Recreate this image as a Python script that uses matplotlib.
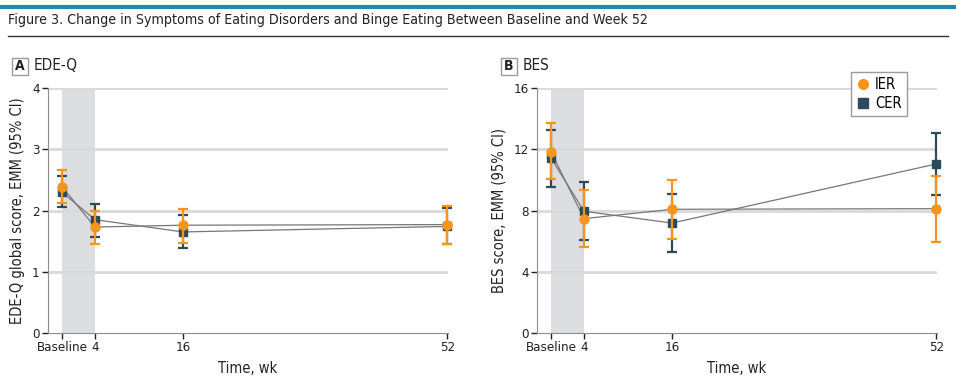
import matplotlib.pyplot as plt
from matplotlib.patches import Rectangle
from matplotlib.lines import Line2D

plt.rcParams['font.family'] = ['DejaVu Sans']
plt.rcParams['font.stretch'] = 'condensed'

# time points (baseline drawn just left of week 0, as in the figure)
weeks = [-0.5, 4, 16, 52]
week_labels = ['Baseline', '4', '16', '52']

# Panel A: EDE-Q global score
edeq_ier = [2.39, 1.73, 1.76, 1.77]
edeq_ier_lo = [2.13, 1.46, 1.47, 1.45]
edeq_ier_hi = [2.66, 2.00, 2.03, 2.08]
edeq_cer = [2.30, 1.85, 1.65, 1.74]
edeq_cer_lo = [2.05, 1.57, 1.38, 1.46]
edeq_cer_hi = [2.57, 2.11, 1.93, 2.04]

# Panel B: BES score
bes_ier = [11.84, 7.47, 8.08, 8.12]
bes_ier_lo = [10.03, 5.59, 6.16, 5.96]
bes_ier_hi = [13.69, 9.32, 9.97, 10.27]
bes_cer = [11.43, 7.95, 7.18, 11.04]
bes_cer_lo = [9.56, 6.10, 5.31, 9.03]
bes_cer_hi = [13.23, 9.84, 9.10, 13.04]

orange = '#f7941d'
navy = '#2c4a58'
grid_c = '#d9d9d9'
spine_c = '#8c8c8c'
text_c = '#222222'

fig = plt.figure(figsize=(9.56, 3.8), dpi=100)

# header
fig.add_artist(Line2D([0, 1], [1 - 7 / 380, 1 - 7 / 380], color='#1b8db3', lw=3))
fig.text(8 / 956, 1 - 20 / 380, 'Figure 3. Change in Symptoms of Eating Disorders and Binge Eating Between Baseline and Week 52',
         fontsize=10.2, va='center', ha='left', color=text_c)
fig.add_artist(Line2D([8 / 956, 948 / 956], [1 - 36 / 380, 1 - 36 / 380], color='#333333', lw=1))


def panel(rect, letter, name, lbl_x, ylabel, ymax, yticks,
          ier, ier_lo, ier_hi, cer, cer_lo, cer_hi, legend=False):
    ax = fig.add_axes(rect)
    ax.set_xlim(-2.4, 52.1)
    ax.set_ylim(0, ymax)
    ax.axvspan(weeks[0], weeks[1], color='#dcdde0', lw=0, zorder=0)
    for t in yticks[1:]:
        ax.axhline(t, color=grid_c, lw=2, zorder=0.5)
    ax.plot(weeks, ier, color='#777777', lw=0.9, zorder=2)
    ax.plot(weeks, cer, color='#777777', lw=0.9, zorder=2)
    ax.errorbar(weeks, cer, yerr=[[c - l for c, l in zip(cer, cer_lo)], [h - c for c, h in zip(cer, cer_hi)]],
                fmt='s', color=navy, ms=6, elinewidth=1.6, capsize=3.7, capthick=1.6, zorder=3, clip_on=False)
    ax.errorbar(weeks, ier, yerr=[[c - l for c, l in zip(ier, ier_lo)], [h - c for c, h in zip(ier, ier_hi)]],
                fmt='o', color=orange, ms=6.5, elinewidth=1.6, capsize=3.7, capthick=1.6, zorder=4, clip_on=False)
    for s in ['top', 'right']:
        ax.spines[s].set_visible(False)
    ax.spines['left'].set_color(spine_c)
    ax.spines['bottom'].set_color(spine_c)
    ax.set_xticks(weeks)
    ax.set_xticklabels(week_labels)
    ax.set_yticks(yticks)
    ax.tick_params(axis='both', labelsize=9.5, colors=text_c, length=4, width=1, pad=2)
    ax.set_ylabel(ylabel, fontsize=10.5, color=text_c, labelpad=5)
    ax.set_xlabel('Time, wk', fontsize=10.5, color=text_c, labelpad=5)

    # panel letter box
    x0 = lbl_x / 956
    fig.text(x0 + 8 / 956, 1 - 66 / 380, letter, fontsize=10, fontweight='bold', ha='center', va='center',
             color=text_c)
    fig.add_artist(Rectangle((x0, 1 - 75 / 380), 16 / 956, 17 / 380, fill=False, edgecolor='#9a9a9a', lw=1))
    fig.text(x0 + 22 / 956, 1 - 66 / 380, name, fontsize=11, ha='left', va='center', color=text_c)

    if legend:
        handles = [Line2D([], [], ls='none', marker='o', ms=7, color=orange),
                   Line2D([], [], ls='none', marker='s', ms=7, color=navy)]
        leg = ax.legend(handles, ['IER', 'CER'], loc='upper left', bbox_to_anchor=(851 / 956, 1 - 72 / 380),
                        bbox_transform=fig.transFigure, fontsize=10.5, frameon=True, fancybox=False,
                        edgecolor='#9a9a9a', framealpha=1, handletextpad=0.3, borderpad=0.35,
                        labelspacing=0.25, handlelength=1.0, borderaxespad=0)
        leg.set_zorder(10)
    return ax


panel([48 / 956, 1 - 333 / 380, 400 / 956, 245 / 380], 'A', 'EDE-Q', 12,
      'EDE-Q global score, EMM (95% CI)', 4, [0, 1, 2, 3, 4],
      edeq_ier, edeq_ier_lo, edeq_ier_hi, edeq_cer, edeq_cer_lo, edeq_cer_hi)
panel([537 / 956, 1 - 333 / 380, 400 / 956, 245 / 380], 'B', 'BES', 501,
      'BES score, EMM (95% CI)', 16, [0, 4, 8, 12, 16],
      bes_ier, bes_ier_lo, bes_ier_hi, bes_cer, bes_cer_lo, bes_cer_hi, legend=True)

fig.savefig('out.png', dpi=100)
